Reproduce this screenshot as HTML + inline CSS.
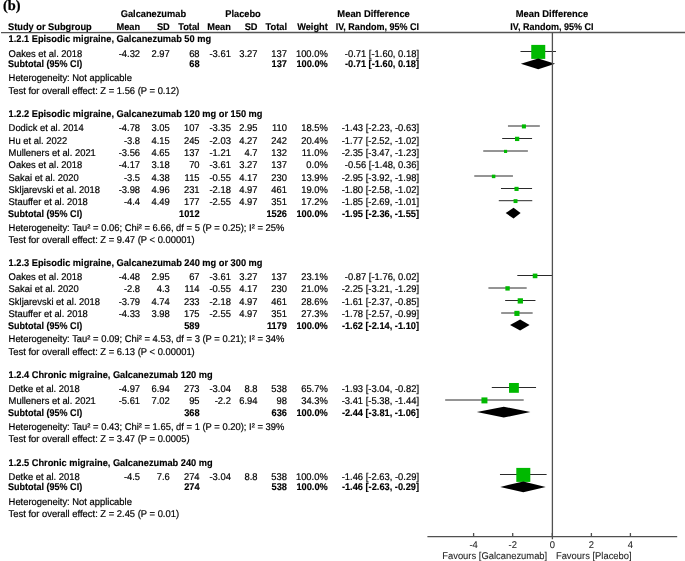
<!DOCTYPE html>
<html><head><meta charset="utf-8"><title>Forest plot</title>
<style>
html,body{margin:0;padding:0;background:#fff;}
body{width:685px;height:561px;overflow:hidden;}
svg{display:block;will-change:transform;text-rendering:geometricPrecision;}
text{font-family:"Liberation Sans",sans-serif;font-size:9.8px;fill:#000;stroke:#000;stroke-width:0.2px;}
text.b{font-weight:bold;stroke-width:0.15px;}
text.ax{stroke-width:0.08px;fill:#222;stroke:#222;}
text.lbl{font-family:"Liberation Serif",serif;font-weight:bold;font-size:14.4px;fill:#000;stroke:#000;stroke-width:0.25px;}
.ln{stroke:#2a2a2a;stroke-width:1;}
.ax1{stroke:#505050;stroke-width:1.3;}
.rule{stroke:#555;stroke-width:1.4;}
</style></head><body>
<svg width="685" height="561" viewBox="0 0 685 561">
<rect width="685" height="561" fill="#fff"/>
<text class="lbl" transform="translate(3.0,9.7) scale(1.0,1)">(b)</text>
<line x1="520.51" y1="51.50" x2="555.99" y2="51.50" class="ln"/>
<rect x="531.25" y="44.90" width="14.00" height="14.00" fill="#00b900"/>
<polygon points="520.81,63.80 538.25,58.40 555.09,63.80 538.25,69.20" fill="#000"/>
<line x1="507.96" y1="126.00" x2="539.84" y2="126.00" class="ln"/>
<rect x="521.87" y="124.37" width="4.06" height="4.06" fill="#00b900"/>
<line x1="502.18" y1="138.50" x2="532.07" y2="138.50" class="ln"/>
<rect x="514.98" y="136.76" width="4.29" height="4.29" fill="#00b900"/>
<line x1="483.24" y1="151.00" x2="527.89" y2="151.00" class="ln"/>
<rect x="503.99" y="149.83" width="3.14" height="3.14" fill="#00b900"/>
<line x1="474.27" y1="176.00" x2="512.94" y2="176.00" class="ln"/>
<rect x="491.86" y="174.65" width="3.50" height="3.50" fill="#00b900"/>
<line x1="500.98" y1="188.50" x2="532.07" y2="188.50" class="ln"/>
<rect x="514.47" y="186.84" width="4.12" height="4.12" fill="#00b900"/>
<line x1="498.79" y1="200.70" x2="532.27" y2="200.70" class="ln"/>
<rect x="513.58" y="199.15" width="3.90" height="3.90" fill="#00b900"/>
<polygon points="505.67,213.10 513.54,207.70 520.61,213.10 513.54,218.50" fill="#000"/>
<line x1="517.32" y1="275.50" x2="552.80" y2="275.50" class="ln"/>
<rect x="532.75" y="273.59" width="4.62" height="4.62" fill="#00b900"/>
<line x1="488.42" y1="288.00" x2="526.69" y2="288.00" class="ln"/>
<rect x="505.38" y="286.22" width="4.36" height="4.36" fill="#00b900"/>
<line x1="505.17" y1="300.50" x2="535.46" y2="300.50" class="ln"/>
<rect x="517.67" y="298.26" width="5.29" height="5.29" fill="#00b900"/>
<line x1="501.18" y1="313.00" x2="532.67" y2="313.00" class="ln"/>
<rect x="514.36" y="310.83" width="5.13" height="5.13" fill="#00b900"/>
<polygon points="510.05,325.00 520.11,319.60 529.58,325.00 520.11,330.40" fill="#000"/>
<line x1="491.81" y1="387.50" x2="536.06" y2="387.50" class="ln"/>
<rect x="509.03" y="382.99" width="9.82" height="9.82" fill="#00b900"/>
<line x1="445.18" y1="400.00" x2="523.70" y2="400.00" class="ln"/>
<rect x="481.45" y="397.41" width="5.98" height="5.98" fill="#00b900"/>
<polygon points="476.77,412.10 503.77,406.70 530.37,412.10 503.77,417.50" fill="#000"/>
<line x1="499.98" y1="474.50" x2="546.62" y2="474.50" class="ln"/>
<rect x="516.30" y="467.90" width="14.00" height="14.00" fill="#00b900"/>
<polygon points="500.28,486.90 523.30,481.50 545.72,486.90 523.30,492.30" fill="#000"/>
<line x1="1" y1="32.6" x2="685" y2="32.5" class="rule"/>
<line x1="552.40" y1="32.5" x2="552.40" y2="539.1999999999999" class="ax1"/>
<line x1="427.4" y1="536.6" x2="677.2" y2="536.6" class="ax1"/>
<line x1="473.60" y1="533.0" x2="473.60" y2="536.9" class="ax1"/>
<line x1="512.70" y1="533.0" x2="512.70" y2="536.9" class="ax1"/>
<line x1="552.30" y1="533.0" x2="552.30" y2="536.9" class="ax1"/>
<line x1="591.40" y1="533.0" x2="591.40" y2="536.9" class="ax1"/>
<line x1="630.40" y1="533.0" x2="630.40" y2="536.9" class="ax1"/>
<text transform="translate(153.40,17.40) scale(0.9439,1)" text-anchor="middle" class="b">Galcanezumab</text>
<text transform="translate(243.00,17.40) scale(0.9439,1)" text-anchor="middle" class="b">Placebo</text>
<text transform="translate(373.60,17.40) scale(0.9580,1)" text-anchor="middle" class="b">Mean Difference</text>
<text transform="translate(552.00,17.40) scale(0.9580,1)" text-anchor="middle" class="b">Mean Difference</text>
<text transform="translate(8.00,29.90) scale(0.9439,1)" class="b">Study or Subgroup</text>
<text transform="translate(140.10,29.90) scale(0.9439,1)" text-anchor="end" class="b">Mean</text>
<text transform="translate(169.80,29.90) scale(0.9439,1)" text-anchor="end" class="b">SD</text>
<text transform="translate(199.60,29.90) scale(0.9439,1)" text-anchor="end" class="b">Total</text>
<text transform="translate(230.90,29.90) scale(0.9439,1)" text-anchor="end" class="b">Mean</text>
<text transform="translate(257.50,29.90) scale(0.9439,1)" text-anchor="end" class="b">SD</text>
<text transform="translate(287.00,29.90) scale(0.9439,1)" text-anchor="end" class="b">Total</text>
<text transform="translate(327.80,29.90) scale(0.9439,1)" text-anchor="end" class="b">Weight</text>
<text transform="translate(419.00,29.90) scale(0.9203,1)" text-anchor="end" class="b">IV, Random, 95% CI</text>
<text transform="translate(551.90,29.90) scale(0.9203,1)" text-anchor="middle" class="b">IV, Random, 95% CI</text>
<text transform="translate(8.60,42.40) scale(0.9439,1)" class="b">1.2.1 Episodic migraine, Galcanezumab 50 mg</text>
<text transform="translate(8.60,56.70) scale(0.9592,1)">Oakes et al. 2018</text>
<text transform="translate(140.10,56.70) scale(0.9592,1)" text-anchor="end">-4.32</text>
<text transform="translate(169.80,56.70) scale(0.9592,1)" text-anchor="end">2.97</text>
<text transform="translate(199.60,56.70) scale(0.9592,1)" text-anchor="end">68</text>
<text transform="translate(230.90,56.70) scale(0.9592,1)" text-anchor="end">-3.61</text>
<text transform="translate(257.50,56.70) scale(0.9592,1)" text-anchor="end">3.27</text>
<text transform="translate(287.00,56.70) scale(0.9592,1)" text-anchor="end">137</text>
<text transform="translate(327.80,56.70) scale(0.9592,1)" text-anchor="end">100.0%</text>
<text transform="translate(419.00,56.70) scale(0.9592,1)" text-anchor="end">-0.71 [-1.60, 0.18]</text>
<text transform="translate(8.00,67.30) scale(0.9203,1)" class="b">Subtotal (95% CI)</text>
<text transform="translate(199.60,67.30) scale(0.9439,1)" text-anchor="end" class="b">68</text>
<text transform="translate(287.00,67.30) scale(0.9439,1)" text-anchor="end" class="b">137</text>
<text transform="translate(327.80,67.30) scale(0.9439,1)" text-anchor="end" class="b">100.0%</text>
<text transform="translate(419.00,67.30) scale(0.9439,1)" text-anchor="end" class="b">-0.71 [-1.60, 0.18]</text>
<text transform="translate(8.60,80.80) scale(0.9592,1)">Heterogeneity: Not applicable</text>
<text transform="translate(8.60,93.60) scale(0.9592,1)">Test for overall effect: Z = 1.56 (P = 0.12)</text>
<text transform="translate(8.60,116.80) scale(0.9439,1)" class="b">1.2.2 Episodic migraine, Galcanezumab 120 mg or 150 mg</text>
<text transform="translate(8.60,131.20) scale(0.9592,1)">Dodick et al. 2014</text>
<text transform="translate(140.10,131.20) scale(0.9592,1)" text-anchor="end">-4.78</text>
<text transform="translate(169.80,131.20) scale(0.9592,1)" text-anchor="end">3.05</text>
<text transform="translate(199.60,131.20) scale(0.9592,1)" text-anchor="end">107</text>
<text transform="translate(230.90,131.20) scale(0.9592,1)" text-anchor="end">-3.35</text>
<text transform="translate(257.50,131.20) scale(0.9592,1)" text-anchor="end">2.95</text>
<text transform="translate(287.00,131.20) scale(0.9592,1)" text-anchor="end">110</text>
<text transform="translate(327.80,131.20) scale(0.9592,1)" text-anchor="end">18.5%</text>
<text transform="translate(419.00,131.20) scale(0.9592,1)" text-anchor="end">-1.43 [-2.23, -0.63]</text>
<text transform="translate(8.60,143.60) scale(0.9592,1)">Hu et al. 2022</text>
<text transform="translate(140.10,143.60) scale(0.9592,1)" text-anchor="end">-3.8</text>
<text transform="translate(169.80,143.60) scale(0.9592,1)" text-anchor="end">4.15</text>
<text transform="translate(199.60,143.60) scale(0.9592,1)" text-anchor="end">245</text>
<text transform="translate(230.90,143.60) scale(0.9592,1)" text-anchor="end">-2.03</text>
<text transform="translate(257.50,143.60) scale(0.9592,1)" text-anchor="end">4.27</text>
<text transform="translate(287.00,143.60) scale(0.9592,1)" text-anchor="end">242</text>
<text transform="translate(327.80,143.60) scale(0.9592,1)" text-anchor="end">20.4%</text>
<text transform="translate(419.00,143.60) scale(0.9592,1)" text-anchor="end">-1.77 [-2.52, -1.02]</text>
<text transform="translate(8.60,156.00) scale(0.9592,1)">Mulleners et al. 2021</text>
<text transform="translate(140.10,156.00) scale(0.9592,1)" text-anchor="end">-3.56</text>
<text transform="translate(169.80,156.00) scale(0.9592,1)" text-anchor="end">4.65</text>
<text transform="translate(199.60,156.00) scale(0.9592,1)" text-anchor="end">137</text>
<text transform="translate(230.90,156.00) scale(0.9592,1)" text-anchor="end">-1.21</text>
<text transform="translate(257.50,156.00) scale(0.9592,1)" text-anchor="end">4.7</text>
<text transform="translate(287.00,156.00) scale(0.9592,1)" text-anchor="end">132</text>
<text transform="translate(327.80,156.00) scale(0.9592,1)" text-anchor="end">11.0%</text>
<text transform="translate(419.00,156.00) scale(0.9592,1)" text-anchor="end">-2.35 [-3.47, -1.23]</text>
<text transform="translate(8.60,168.00) scale(0.9592,1)">Oakes et al. 2018</text>
<text transform="translate(140.10,168.00) scale(0.9592,1)" text-anchor="end">-4.17</text>
<text transform="translate(169.80,168.00) scale(0.9592,1)" text-anchor="end">3.18</text>
<text transform="translate(199.60,168.00) scale(0.9592,1)" text-anchor="end">70</text>
<text transform="translate(230.90,168.00) scale(0.9592,1)" text-anchor="end">-3.61</text>
<text transform="translate(257.50,168.00) scale(0.9592,1)" text-anchor="end">3.27</text>
<text transform="translate(287.00,168.00) scale(0.9592,1)" text-anchor="end">137</text>
<text transform="translate(327.80,168.00) scale(0.9592,1)" text-anchor="end">0.0%</text>
<text transform="translate(419.00,168.00) scale(0.9592,1)" text-anchor="end">-0.56 [-1.48, 0.36]</text>
<text transform="translate(8.60,180.50) scale(0.9592,1)">Sakai et al. 2020</text>
<text transform="translate(140.10,180.50) scale(0.9592,1)" text-anchor="end">-3.5</text>
<text transform="translate(169.80,180.50) scale(0.9592,1)" text-anchor="end">4.38</text>
<text transform="translate(199.60,180.50) scale(0.9592,1)" text-anchor="end">115</text>
<text transform="translate(230.90,180.50) scale(0.9592,1)" text-anchor="end">-0.55</text>
<text transform="translate(257.50,180.50) scale(0.9592,1)" text-anchor="end">4.17</text>
<text transform="translate(287.00,180.50) scale(0.9592,1)" text-anchor="end">230</text>
<text transform="translate(327.80,180.50) scale(0.9592,1)" text-anchor="end">13.9%</text>
<text transform="translate(419.00,180.50) scale(0.9592,1)" text-anchor="end">-2.95 [-3.92, -1.98]</text>
<text transform="translate(8.60,193.30) scale(0.9592,1)">Skljarevski et al. 2018</text>
<text transform="translate(140.10,193.30) scale(0.9592,1)" text-anchor="end">-3.98</text>
<text transform="translate(169.80,193.30) scale(0.9592,1)" text-anchor="end">4.96</text>
<text transform="translate(199.60,193.30) scale(0.9592,1)" text-anchor="end">231</text>
<text transform="translate(230.90,193.30) scale(0.9592,1)" text-anchor="end">-2.18</text>
<text transform="translate(257.50,193.30) scale(0.9592,1)" text-anchor="end">4.97</text>
<text transform="translate(287.00,193.30) scale(0.9592,1)" text-anchor="end">461</text>
<text transform="translate(327.80,193.30) scale(0.9592,1)" text-anchor="end">19.0%</text>
<text transform="translate(419.00,193.30) scale(0.9592,1)" text-anchor="end">-1.80 [-2.58, -1.02]</text>
<text transform="translate(8.60,205.30) scale(0.9592,1)">Stauffer et al. 2018</text>
<text transform="translate(140.10,205.30) scale(0.9592,1)" text-anchor="end">-4.4</text>
<text transform="translate(169.80,205.30) scale(0.9592,1)" text-anchor="end">4.49</text>
<text transform="translate(199.60,205.30) scale(0.9592,1)" text-anchor="end">177</text>
<text transform="translate(230.90,205.30) scale(0.9592,1)" text-anchor="end">-2.55</text>
<text transform="translate(257.50,205.30) scale(0.9592,1)" text-anchor="end">4.97</text>
<text transform="translate(287.00,205.30) scale(0.9592,1)" text-anchor="end">351</text>
<text transform="translate(327.80,205.30) scale(0.9592,1)" text-anchor="end">17.2%</text>
<text transform="translate(419.00,205.30) scale(0.9592,1)" text-anchor="end">-1.85 [-2.69, -1.01]</text>
<text transform="translate(8.00,216.60) scale(0.9203,1)" class="b">Subtotal (95% CI)</text>
<text transform="translate(199.60,216.60) scale(0.9439,1)" text-anchor="end" class="b">1012</text>
<text transform="translate(287.00,216.60) scale(0.9439,1)" text-anchor="end" class="b">1526</text>
<text transform="translate(327.80,216.60) scale(0.9439,1)" text-anchor="end" class="b">100.0%</text>
<text transform="translate(419.00,216.60) scale(0.9439,1)" text-anchor="end" class="b">-1.95 [-2.36, -1.55]</text>
<text transform="translate(8.60,230.60) scale(0.9592,1)">Heterogeneity: Tau² = 0.06; Chi² = 6.66, df = 5 (P = 0.25); I² = 25%</text>
<text transform="translate(8.60,242.90) scale(0.9592,1)">Test for overall effect: Z = 9.47 (P &lt; 0.00001)</text>
<text transform="translate(8.60,266.30) scale(0.9439,1)" class="b">1.2.3 Episodic migraine, Galcanezumab 240 mg or 300 mg</text>
<text transform="translate(8.60,280.20) scale(0.9592,1)">Oakes et al. 2018</text>
<text transform="translate(140.10,280.20) scale(0.9592,1)" text-anchor="end">-4.48</text>
<text transform="translate(169.80,280.20) scale(0.9592,1)" text-anchor="end">2.95</text>
<text transform="translate(199.60,280.20) scale(0.9592,1)" text-anchor="end">67</text>
<text transform="translate(230.90,280.20) scale(0.9592,1)" text-anchor="end">-3.61</text>
<text transform="translate(257.50,280.20) scale(0.9592,1)" text-anchor="end">3.27</text>
<text transform="translate(287.00,280.20) scale(0.9592,1)" text-anchor="end">137</text>
<text transform="translate(327.80,280.20) scale(0.9592,1)" text-anchor="end">23.1%</text>
<text transform="translate(419.00,280.20) scale(0.9592,1)" text-anchor="end">-0.87 [-1.76, 0.02]</text>
<text transform="translate(8.60,292.30) scale(0.9592,1)">Sakai et al. 2020</text>
<text transform="translate(140.10,292.30) scale(0.9592,1)" text-anchor="end">-2.8</text>
<text transform="translate(169.80,292.30) scale(0.9592,1)" text-anchor="end">4.3</text>
<text transform="translate(199.60,292.30) scale(0.9592,1)" text-anchor="end">114</text>
<text transform="translate(230.90,292.30) scale(0.9592,1)" text-anchor="end">-0.55</text>
<text transform="translate(257.50,292.30) scale(0.9592,1)" text-anchor="end">4.17</text>
<text transform="translate(287.00,292.30) scale(0.9592,1)" text-anchor="end">230</text>
<text transform="translate(327.80,292.30) scale(0.9592,1)" text-anchor="end">21.0%</text>
<text transform="translate(419.00,292.30) scale(0.9592,1)" text-anchor="end">-2.25 [-3.21, -1.29]</text>
<text transform="translate(8.60,304.80) scale(0.9592,1)">Skljarevski et al. 2018</text>
<text transform="translate(140.10,304.80) scale(0.9592,1)" text-anchor="end">-3.79</text>
<text transform="translate(169.80,304.80) scale(0.9592,1)" text-anchor="end">4.74</text>
<text transform="translate(199.60,304.80) scale(0.9592,1)" text-anchor="end">233</text>
<text transform="translate(230.90,304.80) scale(0.9592,1)" text-anchor="end">-2.18</text>
<text transform="translate(257.50,304.80) scale(0.9592,1)" text-anchor="end">4.97</text>
<text transform="translate(287.00,304.80) scale(0.9592,1)" text-anchor="end">461</text>
<text transform="translate(327.80,304.80) scale(0.9592,1)" text-anchor="end">28.6%</text>
<text transform="translate(419.00,304.80) scale(0.9592,1)" text-anchor="end">-1.61 [-2.37, -0.85]</text>
<text transform="translate(8.60,317.20) scale(0.9592,1)">Stauffer et al. 2018</text>
<text transform="translate(140.10,317.20) scale(0.9592,1)" text-anchor="end">-4.33</text>
<text transform="translate(169.80,317.20) scale(0.9592,1)" text-anchor="end">3.98</text>
<text transform="translate(199.60,317.20) scale(0.9592,1)" text-anchor="end">175</text>
<text transform="translate(230.90,317.20) scale(0.9592,1)" text-anchor="end">-2.55</text>
<text transform="translate(257.50,317.20) scale(0.9592,1)" text-anchor="end">4.97</text>
<text transform="translate(287.00,317.20) scale(0.9592,1)" text-anchor="end">351</text>
<text transform="translate(327.80,317.20) scale(0.9592,1)" text-anchor="end">27.3%</text>
<text transform="translate(419.00,317.20) scale(0.9592,1)" text-anchor="end">-1.78 [-2.57, -0.99]</text>
<text transform="translate(8.00,328.50) scale(0.9203,1)" class="b">Subtotal (95% CI)</text>
<text transform="translate(199.60,328.50) scale(0.9439,1)" text-anchor="end" class="b">589</text>
<text transform="translate(287.00,328.50) scale(0.9439,1)" text-anchor="end" class="b">1179</text>
<text transform="translate(327.80,328.50) scale(0.9439,1)" text-anchor="end" class="b">100.0%</text>
<text transform="translate(419.00,328.50) scale(0.9439,1)" text-anchor="end" class="b">-1.62 [-2.14, -1.10]</text>
<text transform="translate(8.60,342.40) scale(0.9592,1)">Heterogeneity: Tau² = 0.09; Chi² = 4.53, df = 3 (P = 0.21); I² = 34%</text>
<text transform="translate(8.60,355.10) scale(0.9592,1)">Test for overall effect: Z = 6.13 (P &lt; 0.00001)</text>
<text transform="translate(8.60,378.20) scale(0.9439,1)" class="b">1.2.4 Chronic migraine, Galcanezumab 120 mg</text>
<text transform="translate(8.60,392.40) scale(0.9592,1)">Detke et al. 2018</text>
<text transform="translate(140.10,392.40) scale(0.9592,1)" text-anchor="end">-4.97</text>
<text transform="translate(169.80,392.40) scale(0.9592,1)" text-anchor="end">6.94</text>
<text transform="translate(199.60,392.40) scale(0.9592,1)" text-anchor="end">273</text>
<text transform="translate(230.90,392.40) scale(0.9592,1)" text-anchor="end">-3.04</text>
<text transform="translate(257.50,392.40) scale(0.9592,1)" text-anchor="end">8.8</text>
<text transform="translate(287.00,392.40) scale(0.9592,1)" text-anchor="end">538</text>
<text transform="translate(327.80,392.40) scale(0.9592,1)" text-anchor="end">65.7%</text>
<text transform="translate(419.00,392.40) scale(0.9592,1)" text-anchor="end">-1.93 [-3.04, -0.82]</text>
<text transform="translate(8.60,404.40) scale(0.9592,1)">Mulleners et al. 2021</text>
<text transform="translate(140.10,404.40) scale(0.9592,1)" text-anchor="end">-5.61</text>
<text transform="translate(169.80,404.40) scale(0.9592,1)" text-anchor="end">7.02</text>
<text transform="translate(199.60,404.40) scale(0.9592,1)" text-anchor="end">95</text>
<text transform="translate(230.90,404.40) scale(0.9592,1)" text-anchor="end">-2.2</text>
<text transform="translate(257.50,404.40) scale(0.9592,1)" text-anchor="end">6.94</text>
<text transform="translate(287.00,404.40) scale(0.9592,1)" text-anchor="end">98</text>
<text transform="translate(327.80,404.40) scale(0.9592,1)" text-anchor="end">34.3%</text>
<text transform="translate(419.00,404.40) scale(0.9592,1)" text-anchor="end">-3.41 [-5.38, -1.44]</text>
<text transform="translate(8.00,415.60) scale(0.9203,1)" class="b">Subtotal (95% CI)</text>
<text transform="translate(199.60,415.60) scale(0.9439,1)" text-anchor="end" class="b">368</text>
<text transform="translate(287.00,415.60) scale(0.9439,1)" text-anchor="end" class="b">636</text>
<text transform="translate(327.80,415.60) scale(0.9439,1)" text-anchor="end" class="b">100.0%</text>
<text transform="translate(419.00,415.60) scale(0.9439,1)" text-anchor="end" class="b">-2.44 [-3.81, -1.06]</text>
<text transform="translate(8.60,429.70) scale(0.9592,1)">Heterogeneity: Tau² = 0.43; Chi² = 1.65, df = 1 (P = 0.20); I² = 39%</text>
<text transform="translate(8.60,442.40) scale(0.9592,1)">Test for overall effect: Z = 3.47 (P = 0.0005)</text>
<text transform="translate(8.60,465.50) scale(0.9439,1)" class="b">1.2.5 Chronic migraine, Galcanezumab 240 mg</text>
<text transform="translate(8.60,479.70) scale(0.9592,1)">Detke et al. 2018</text>
<text transform="translate(140.10,479.70) scale(0.9592,1)" text-anchor="end">-4.5</text>
<text transform="translate(169.80,479.70) scale(0.9592,1)" text-anchor="end">7.6</text>
<text transform="translate(199.60,479.70) scale(0.9592,1)" text-anchor="end">274</text>
<text transform="translate(230.90,479.70) scale(0.9592,1)" text-anchor="end">-3.04</text>
<text transform="translate(257.50,479.70) scale(0.9592,1)" text-anchor="end">8.8</text>
<text transform="translate(287.00,479.70) scale(0.9592,1)" text-anchor="end">538</text>
<text transform="translate(327.80,479.70) scale(0.9592,1)" text-anchor="end">100.0%</text>
<text transform="translate(419.00,479.70) scale(0.9592,1)" text-anchor="end">-1.46 [-2.63, -0.29]</text>
<text transform="translate(8.00,490.40) scale(0.9203,1)" class="b">Subtotal (95% CI)</text>
<text transform="translate(199.60,490.40) scale(0.9439,1)" text-anchor="end" class="b">274</text>
<text transform="translate(287.00,490.40) scale(0.9439,1)" text-anchor="end" class="b">538</text>
<text transform="translate(327.80,490.40) scale(0.9439,1)" text-anchor="end" class="b">100.0%</text>
<text transform="translate(419.00,490.40) scale(0.9439,1)" text-anchor="end" class="b">-1.46 [-2.63, -0.29]</text>
<text transform="translate(8.60,504.60) scale(0.9592,1)">Heterogeneity: Not applicable</text>
<text transform="translate(8.60,517.00) scale(0.9592,1)">Test for overall effect: Z = 2.45 (P = 0.01)</text>
<text transform="translate(473.60,547.80) scale(0.9592,1)" text-anchor="middle" class="ax">-4</text>
<text transform="translate(512.70,547.80) scale(0.9592,1)" text-anchor="middle" class="ax">-2</text>
<text transform="translate(552.30,547.80) scale(0.9592,1)" text-anchor="middle" class="ax">0</text>
<text transform="translate(591.40,547.80) scale(0.9592,1)" text-anchor="middle" class="ax">2</text>
<text transform="translate(630.40,547.80) scale(0.9592,1)" text-anchor="middle" class="ax">4</text>
<text transform="translate(547.20,558.60) scale(0.9592,1)" text-anchor="end" class="ax">Favours [Galcanezumab]</text>
<text transform="translate(555.90,558.60) scale(0.9592,1)" class="ax">Favours [Placebo]</text>
</svg>
</body></html>
